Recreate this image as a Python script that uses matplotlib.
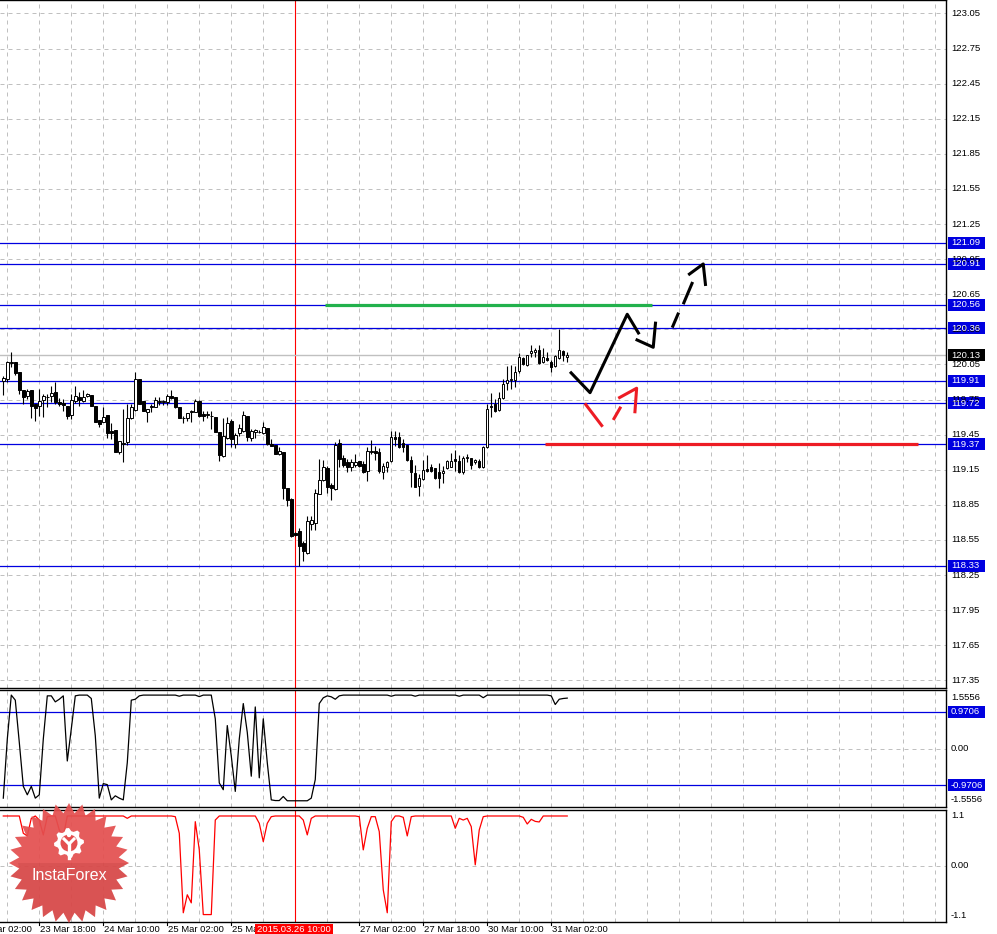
import numpy as np
import matplotlib.pyplot as plt
from matplotlib.patches import Polygon, Rectangle, Circle
from matplotlib.transforms import IdentityTransform

plt.rcParams['font.family'] = ['Liberation Sans', 'DejaVu Sans']

# H1 bars, 23 Mar 09:00 .. 31 Mar 06:00 (bar index 0..141)
opens = [119.905, 119.922, 120.065, 120.071, 119.985, 119.833, 119.779, 119.833, 119.713, 119.699,
         119.750, 119.768, 119.779, 119.813, 119.728, 119.719, 119.699, 119.619, 119.736, 119.770,
         119.742, 119.779, 119.785, 119.693, 119.576, 119.562, 119.619, 119.479, 119.493, 119.299,
         119.373, 119.390, 119.596, 119.665, 119.928, 119.736, 119.648, 119.685, 119.685, 119.728,
         119.728, 119.728, 119.779, 119.770, 119.685, 119.590, 119.596, 119.648, 119.648, 119.742,
         119.628, 119.619, 119.607, 119.599, 119.476, 119.270, 119.419, 119.570, 119.370, 119.462,
         119.485, 119.607, 119.422, 119.470, 119.470, 119.465, 119.505, 119.370, 119.362, 119.284,
         119.299, 118.993, 118.904, 118.610, 118.626, 118.521, 118.438, 118.689, 118.698, 118.947,
         119.061, 119.164, 119.021, 118.984, 119.376, 119.247, 119.213, 119.176, 119.193, 119.222,
         119.199, 119.142, 119.299, 119.307, 119.299, 119.127, 119.176, 119.222, 119.428, 119.428,
         119.376, 119.365, 119.233, 119.119, 119.013, 119.070, 119.156, 119.170, 119.165, 119.127,
         119.119, 119.165, 119.176, 119.242, 119.227, 119.127, 119.253, 119.250, 119.213, 119.227,
         119.176, 119.342, 119.699, 119.708, 119.662, 119.765, 119.891, 119.914, 119.914, 119.994,
         120.108, 120.042, 120.148, 120.157, 120.171, 120.071, 120.108, 120.071, 120.034, 120.108,
         120.165, 120.114]
highs = [119.951, 120.082, 120.157, 120.071, 119.985, 119.833, 119.842, 119.833, 119.713, 119.842,
         119.799, 119.799, 119.865, 119.899, 119.762, 119.756, 119.699, 119.799, 119.865, 119.813,
         119.828, 119.808, 119.785, 119.693, 119.576, 119.685, 119.619, 119.547, 119.493, 119.396,
         119.670, 119.713, 119.713, 119.985, 119.928, 119.742, 119.670, 119.713, 119.770, 119.770,
         119.750, 119.799, 119.828, 119.770, 119.685, 119.613, 119.636, 119.665, 119.756, 119.750,
         119.656, 119.656, 119.656, 119.599, 119.476, 119.593, 119.599, 119.585, 119.464, 119.542,
         119.656, 119.607, 119.499, 119.499, 119.493, 119.562, 119.505, 119.413, 119.362, 119.341,
         119.299, 118.993, 118.907, 118.620, 118.655, 118.541, 118.755, 118.755, 118.984, 119.238,
         119.233, 119.184, 119.041, 119.385, 119.413, 119.279, 119.242, 119.242, 119.285, 119.227,
         119.227, 119.348, 119.405, 119.356, 119.336, 119.204, 119.227, 119.479, 119.479, 119.470,
         119.413, 119.365, 119.270, 119.193, 119.113, 119.233, 119.279, 119.199, 119.165, 119.204,
         119.185, 119.233, 119.290, 119.319, 119.279, 119.270, 119.285, 119.250, 119.242, 119.242,
         119.356, 119.714, 119.805, 119.757, 119.814, 119.928, 120.034, 120.043, 120.034, 120.148,
         120.114, 120.134, 120.214, 120.194, 120.214, 120.194, 120.157, 120.085, 120.128, 120.357,
         120.177, 120.157]
lows = [119.785, 119.899, 120.028, 119.956, 119.799, 119.713, 119.756, 119.593, 119.570, 119.613,
        119.600, 119.685, 119.728, 119.713, 119.699, 119.656, 119.585, 119.585, 119.719, 119.699,
        119.728, 119.770, 119.699, 119.562, 119.513, 119.556, 119.424, 119.413, 119.299, 119.284,
        119.219, 119.362, 119.585, 119.656, 119.713, 119.656, 119.562, 119.642, 119.685, 119.705,
        119.705, 119.705, 119.756, 119.676, 119.593, 119.547, 119.567, 119.562, 119.642, 119.599,
        119.570, 119.590, 119.499, 119.476, 119.227, 119.256, 119.413, 119.341, 119.339, 119.442,
        119.470, 119.399, 119.399, 119.422, 119.462, 119.456, 119.362, 119.356, 119.284, 119.276,
        118.898, 118.841, 118.578, 118.584, 118.330, 118.369, 118.432, 118.632, 118.632, 118.941,
        119.050, 118.955, 118.890, 118.979, 119.176, 119.176, 119.127, 119.142, 119.176, 119.176,
        119.119, 119.050, 119.285, 119.233, 119.119, 119.067, 119.127, 119.213, 119.356, 119.336,
        119.299, 119.227, 119.004, 118.999, 118.927, 119.061, 119.127, 119.127, 119.070, 118.993,
        119.033, 119.156, 119.170, 119.142, 119.119, 119.113, 119.213, 119.156, 119.199, 119.164,
        119.164, 119.336, 119.605, 119.642, 119.656, 119.757, 119.834, 119.842, 119.857, 119.977,
        120.042, 120.034, 120.114, 120.114, 120.057, 120.063, 120.080, 119.985, 120.028, 120.100,
        120.080, 120.071]
closes = [119.936, 120.071, 120.071, 119.976, 119.836, 119.770, 119.822, 119.699, 119.682, 119.742,
          119.779, 119.770, 119.808, 119.733, 119.713, 119.705, 119.607, 119.750, 119.779, 119.748,
          119.770, 119.799, 119.699, 119.562, 119.542, 119.600, 119.462, 119.462, 119.304, 119.396,
          119.379, 119.593, 119.685, 119.922, 119.713, 119.656, 119.670, 119.699, 119.748, 119.742,
          119.739, 119.779, 119.765, 119.685, 119.593, 119.593, 119.636, 119.656, 119.742, 119.607,
          119.607, 119.620, 119.608, 119.476, 119.276, 119.442, 119.550, 119.413, 119.450, 119.505,
          119.619, 119.427, 119.485, 119.493, 119.473, 119.513, 119.370, 119.356, 119.284, 119.313,
          118.993, 118.893, 118.584, 118.595, 118.498, 118.455, 118.712, 118.718, 118.955, 119.061,
          119.170, 119.004, 118.993, 119.365, 119.242, 119.193, 119.170, 119.213, 119.219, 119.185,
          119.127, 119.307, 119.307, 119.290, 119.136, 119.185, 119.213, 119.428, 119.413, 119.348,
          119.348, 119.233, 119.127, 119.004, 119.084, 119.147, 119.142, 119.142, 119.079, 119.079,
          119.142, 119.222, 119.227, 119.227, 119.127, 119.250, 119.259, 119.193, 119.233, 119.176,
          119.348, 119.671, 119.685, 119.656, 119.765, 119.885, 119.914, 119.928, 119.985, 120.114,
          120.051, 120.128, 120.165, 120.177, 120.063, 120.114, 120.085, 120.028, 120.120, 120.177,
          120.128, 120.128]

# upper indicator (black line)
ind_black = [-1.32, 0.25, 1.42, 1.285, 0.16, -1.006, -1.231, -1.006, -1.32, -1.231,
             0.25, 1.40, 1.40, 1.24, 1.31, 1.40, -0.332, 0.52, 1.40, 1.42,
             1.42, 1.42, 1.33, 0.34, -1.32, -0.934, -0.961, -1.366, -1.258, -1.32,
             -1.366, -0.377, 1.285, 1.31, 1.40, 1.42, 1.42, 1.42, 1.42, 1.42,
             1.42, 1.42, 1.42, 1.42, 1.39, 1.42, 1.42, 1.42, 1.42, 1.38,
             1.42, 1.42, 1.42, 0.79, -0.916, -1.096, 0.61, -0.198, -1.141, 0.25,
             1.195, 0.43, -0.737, 1.105, -0.78, 0.79, -0.377, -1.366, -1.384, -1.384,
             -1.276, -1.39, -1.39, -1.39, -1.39, -1.39, -1.39, -1.32, -0.827, 1.195,
             1.348, 1.40, 1.375, 1.31, 1.40, 1.42, 1.42, 1.42, 1.42, 1.42,
             1.42, 1.42, 1.42, 1.42, 1.42, 1.42, 1.42, 1.39, 1.42, 1.42,
             1.42, 1.42, 1.42, 1.39, 1.42, 1.42, 1.42, 1.42, 1.42, 1.42,
             1.42, 1.42, 1.42, 1.42, 1.39, 1.42, 1.42, 1.42, 1.42, 1.42,
             1.35, 1.42, 1.42, 1.42, 1.42, 1.42, 1.42, 1.42, 1.42, 1.42,
             1.42, 1.42, 1.42, 1.42, 1.42, 1.42, 1.42, 1.40, 1.17, 1.31,
             1.33, 1.34]

# lower indicator (red line)
ind_red = [1.10, 1.10, 1.10, 1.10, 1.10, 0.716, 0.656, 1.048, 1.10, 1.011,
           0.679, 1.085, 1.10, 1.10, 0.79, 0.642, 1.10, 1.10, 1.10, 1.10,
           1.10, 1.10, 1.10, 1.10, 1.10, 1.10, 1.10, 1.10, 1.10, 1.10,
           1.10, 1.048, 1.10, 1.10, 1.10, 1.10, 1.10, 1.10, 1.10, 1.10,
           1.10, 1.10, 1.10, 1.085, 0.716, -1.05, -0.65, -0.83, 0.974, 0.347,
           -1.09, -1.09, -1.09, 1.01, 1.10, 1.10, 1.10, 1.10, 1.10, 1.10,
           1.10, 1.10, 1.10, 1.10, 0.937, 0.53, 0.937, 1.085, 1.10, 1.10,
           1.10, 1.10, 1.10, 1.10, 1.10, 1.01, 0.68, 1.048, 1.10, 1.10,
           1.10, 1.10, 1.10, 1.10, 1.10, 1.10, 1.10, 1.10, 1.10, 1.085,
           0.347, 0.827, 1.085, 1.085, 0.753, -0.54, -1.05, 0.974, 1.10, 1.10,
           1.07, 0.657, 1.085, 1.10, 1.10, 1.10, 1.10, 1.10, 1.10, 1.10,
           1.10, 1.10, 1.10, 0.827, 1.048, 1.01, 1.048, 0.864, 0.015, 0.79,
           1.085, 1.10, 1.10, 1.10, 1.10, 1.10, 1.10, 1.10, 1.10, 1.10,
           1.07, 0.922, 1.026, 0.98, 0.967, 1.10, 1.10, 1.10, 1.10, 1.10,
           1.10, 1.10]

levels = [121.09, 120.91, 120.56, 120.36, 119.91, 119.72, 119.37, 118.33]
bid = 120.13
osc_levels = [0.9706, -0.9706]
price_ticks = [round(117.35 + 0.30 * k, 2) for k in range(20)]

# time labels: bar index -> text
time_idx = [-7, 9, 25, 41, 57, 89, 105, 121, 137]
time_txt = ['23 Mar 02:00', '23 Mar 18:00', '24 Mar 10:00', '25 Mar 02:00', '25 Mar 18:00',
            '27 Mar 02:00', '27 Mar 18:00', '30 Mar 10:00', '31 Mar 02:00']
cross_idx = 73
cross_txt = '2015.03.26 10:00'

# hand drawn forecast lines (bar index, price)
green_seg = ([80.4, 162.2], [120.56, 120.56])
red_seg = ([135.4, 228.7], [119.37, 119.37])
black_paths = [
    ([141.7, 146.7, 156.0, 159.0], [119.988, 119.809, 120.479, 120.308]),
    ([158.1, 162.5, 163.1], [120.265, 120.197, 120.416]),
    ([167.25, 168.85], [120.365, 120.493]),
    ([170.0, 172.35], [120.565, 120.755]),
    ([171.25, 175.0, 175.6], [120.815, 120.909, 120.721]),
]
red_paths = [
    ([145.4, 149.85], [119.718, 119.518]),
    ([152.5, 154.4], [119.576, 119.689]),
    ([153.75, 158.35, 157.9], [119.761, 119.847, 119.633]),
]

# ---------------------------------------------------------------
W, H = 997, 934
fig = plt.figure(figsize=(W / 100, H / 100), dpi=100)
fig.patch.set_facecolor('white')

def px_axes(x0, y0, x1, y1):
    return fig.add_axes([x0 / W, 1 - y1 / H, (x1 - x0) / W, (y1 - y0) / H])

ax = px_axes(0, 0, 946, 688)
ax1 = px_axes(0, 690, 946, 807)
ax2 = px_axes(0, 810, 946, 922)

XL = (-0.825, 235.7)
GRID = '#c0c0c0'
BLUE = '#0000e0'

for a in (ax, ax1, ax2):
    a.set_xlim(*XL)
    a.set_xticks([])
    a.set_yticks([])
    a.spines['left'].set_visible(False)
    for s in ('top', 'bottom', 'right'):
        a.spines[s].set_linewidth(1.0)
        a.spines[s].set_color('black')
    for g in range(1, 236, 8):
        a.axvline(g, color=GRID, lw=0.72, ls=(0, (4, 4)), zorder=0)
    a.axvline(cross_idx, color='#ff0000', lw=0.8, zorder=1)

ax.set_ylim(117.285, 123.165)
ax1.set_ylim(-1.5556, 1.5556)
ax2.set_ylim(-1.255, 1.233)

for t in price_ticks:
    ax.axhline(t, color=GRID, lw=0.72, ls=(0, (4, 4)), zorder=0)
ax1.axhline(0, color=GRID, lw=0.72, ls=(0, (4, 4)), zorder=0)
ax2.axhline(0, color=GRID, lw=0.72, ls=(0, (4, 4)), zorder=0)

# candles
idx = np.arange(len(closes))
o = np.array(opens)
c = np.array(closes)
ax.vlines(idx, lows, highs, color='black', lw=0.8, zorder=3)
body_lo = np.minimum(o, c)
body_h = np.maximum(np.abs(c - o), 0.004)
cols = ['white' if cc >= oo else 'black' for oo, cc in zip(o, c)]
ax.bar(idx, body_h, bottom=body_lo, width=0.62, color=cols, edgecolor='black', lw=0.7, zorder=4)

ax.axhline(bid, color='#c0c0c0', lw=1.0, zorder=2)
for lv in levels:
    ax.axhline(lv, color=BLUE, lw=0.9, zorder=2)

ax.plot(*green_seg, color='#22b14c', lw=2.3, solid_capstyle='butt', zorder=5)
ax.plot(*red_seg, color='#ed1c24', lw=2.3, solid_capstyle='butt', zorder=5)
for xs, ys in black_paths:
    ax.plot(xs, ys, color='black', lw=2.2, solid_capstyle='butt', zorder=6)
for xs, ys in red_paths:
    ax.plot(xs, ys, color='#ed1c24', lw=2.2, solid_capstyle='butt', zorder=6)

# oscillators
ax1.plot(idx, ind_black, color='black', lw=0.9, zorder=3)
for lv in osc_levels:
    ax1.axhline(lv, color=BLUE, lw=0.9, zorder=2)
ax2.plot(idx, ind_red, color='#ff0000', lw=0.9, zorder=3)

# ---- right scale labels (pixel placement) ----
FS = 6.8

def ypix(a, v):
    return a.transData.transform((0, v))[1]

def scale_label(a, v, txt, fc=None, tc='black', y=None):
    yp = ypix(a, v) if y is None else y
    if fc is not None:
        fig.patches.append(Rectangle((948, yp - 6), 37, 12, transform=IdentityTransform(),
                                     fc=fc, ec='none', zorder=5))
    fig.text(951 / W, yp / H, txt, color=tc, fontsize=FS, ha='left', va='center', zorder=6)

for t in price_ticks:
    scale_label(ax, t, f'{t:.2f}')
for lv in levels:
    scale_label(ax, lv, f'{lv:.2f}', fc=BLUE, tc='white')
scale_label(ax, bid, f'{bid:.2f}', fc='black', tc='white')

scale_label(ax1, 1.5556, '1.5556', y=H - 697)
scale_label(ax1, 0, '0.00')
scale_label(ax1, -1.5556, '-1.5556', y=H - 800)
for lv in osc_levels:
    scale_label(ax1, lv, f'{lv:.4f}', fc=BLUE, tc='white')
scale_label(ax2, 1.1, '1.1')
scale_label(ax2, 0, '0.00')
scale_label(ax2, -1.1, '-1.1')

# ---- time labels ----
for i, txt in zip(time_idx, time_txt):
    xp = ax2.transData.transform((i, 0))[0]
    fig.add_artist(plt.Line2D([xp, xp], [H - 922, H - 925], transform=IdentityTransform(),
                              color='black', lw=0.8))
    fig.text((xp + 0.5) / W, (H - 929) / H, txt, fontsize=FS, ha='left', va='center')

xc = ax2.transData.transform((cross_idx, 0))[0]
fig.patches.append(Rectangle((xc - 40, 0), 78, H - 924, transform=IdentityTransform(),
                             fc='#ff0000', ec='none', zorder=5))
fig.text((xc - 38) / W, (H - 929) / H, cross_txt, color='white', fontsize=FS,
         ha='left', va='center', zorder=6)

# ---- watermark ----
cx, cy = 69, H - 863
n = 28
ang = np.linspace(0, 2 * np.pi, 2 * n, endpoint=False) + np.pi / 2
rad = np.where(np.arange(2 * n) % 2 == 0, 60, 50)
star = np.column_stack([cx + rad * np.cos(ang), cy + rad * np.sin(ang)])
fig.patches.append(Polygon(star, closed=True, transform=IdentityTransform(),
                           fc='#e44f4f', ec='none', alpha=0.93, zorder=10))
# darker lower half
low_half = star[star[:, 1] <= cy]
fig.patches.append(Polygon(np.vstack([[cx + 51, cy], low_half[np.argsort(np.arctan2(low_half[:, 1] - cy, low_half[:, 0] - cx))[::-1]], [cx - 51, cy]]),
                           closed=True, transform=IdentityTransform(),
                           fc='#b83a3a', ec='none', alpha=0.25, zorder=10.5))
gx, gy = cx, cy + 20
ga = np.linspace(0, 2 * np.pi, 32, endpoint=False)
gr = np.where((np.arange(32) // 2) % 2 == 0, 15, 12)
gear = np.column_stack([gx + gr * np.cos(ga), gy + gr * np.sin(ga)])
fig.patches.append(Polygon(gear, closed=True, transform=IdentityTransform(),
                           fc='white', ec='none', zorder=11))
fig.patches.append(Circle((gx, gy), 8.5, transform=IdentityTransform(),
                          fc='#e44f4f', ec='none', zorder=12))
fig.add_artist(plt.Line2D([gx - 5, gx, gx + 5], [gy + 4, gy - 1, gy + 4],
                          transform=IdentityTransform(), color='white', lw=2.2, zorder=13))
fig.add_artist(plt.Line2D([gx, gx], [gy - 1, gy - 15], transform=IdentityTransform(),
                          color='white', lw=2.4, zorder=13))
fig.patches.append(Circle((gx, gy + 8), 2.2, transform=IdentityTransform(),
                          fc='white', ec='none', zorder=13))
fig.text(cx / W, (cy - 13) / H, 'InstaForex', color='white', fontsize=11.5,
         ha='center', va='center', zorder=14)

fig.savefig('out.png', dpi=100)
